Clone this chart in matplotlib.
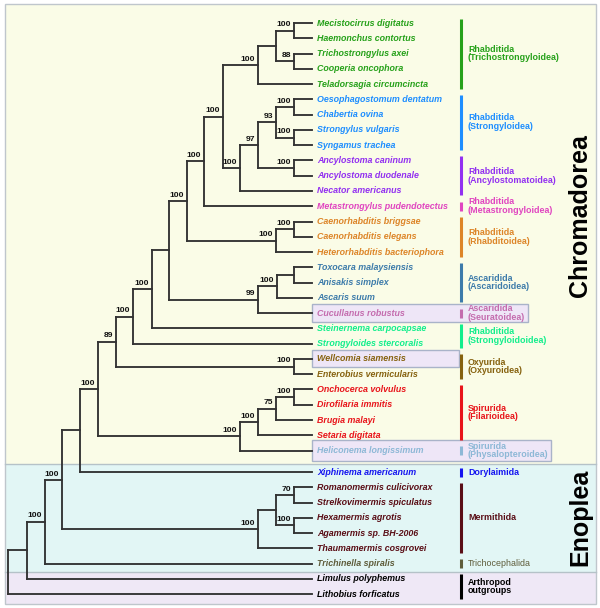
import matplotlib
matplotlib.use("Agg")
import matplotlib.pyplot as plt
from matplotlib.patches import Rectangle

plt.rcParams['font.family'] = ['Liberation Sans', 'DejaVu Sans']

# ---------------- DATA ----------------
taxa = [
    "Mecistocirrus digitatus", "Haemonchus contortus", "Trichostrongylus axei",
    "Cooperia oncophora", "Teladorsagia circumcincta", "Oesophagostomum dentatum",
    "Chabertia ovina", "Strongylus vulgaris", "Syngamus trachea",
    "Ancylostoma caninum", "Ancylostoma duodenale", "Necator americanus",
    "Metastrongylus pudendotectus", "Caenorhabditis briggsae", "Caenorhabditis elegans",
    "Heterorhabditis bacteriophora", "Toxocara malaysiensis", "Anisakis simplex",
    "Ascaris suum", "Cucullanus robustus", "Steinernema carpocapsae",
    "Strongyloides stercoralis", "Wellcomia siamensis", "Enterobius vermicularis",
    "Onchocerca volvulus", "Dirofilaria immitis", "Brugia malayi",
    "Setaria digitata", "Heliconema longissimum", "Xiphinema americanum",
    "Romanomermis culicivorax", "Strelkovimermis spiculatus", "Hexamermis agrotis",
    "Agamermis sp. BH-2006", "Thaumamermis cosgrovei", "Trichinella spiralis",
    "Limulus polyphemus", "Lithobius forficatus",
]

group_names = [
    "Rhabditida\n(Trichostrongyloidea)", "Rhabditida\n(Strongyloidea)",
    "Rhabditida\n(Ancylostomatoidea)", "Rhabditida\n(Metastrongyloidea)",
    "Rhabditida\n(Rhabditoidea)", "Ascaridida\n(Ascaridoidea)",
    "Ascaridida\n(Seuratoidea)", "Rhabditida\n(Strongyloidoidea)",
    "Oxyurida\n(Oxyuroidea)", "Spirurida\n(Filarioidea)",
    "Spirurida\n(Physalopteroidea)", "Dorylaimida", "Mermithida",
    "Trichocephalida", "Arthropod\noutgroups",
]
group_sizes = [5, 4, 3, 1, 3, 3, 1, 2, 2, 4, 1, 1, 5, 1, 2]
group_colors = [
    "#26A11A", "#1E8EFF", "#9230F0", "#E045C0", "#DD8528", "#3D7BAA",
    "#C46CAE", "#12EE8C", "#86620F", "#E8141A", "#8DB8D6", "#1414F0",
    "#5A0E16", "#5E5C3A", "#000000",
]
group_bold = [True] * 13 + [False, True]

highlighted = ["Cucullanus robustus", "Wellcomia siamensis", "Heliconema longissimum"]

# internal nodes: id, children, depth (x), bootstrap support
node_ids = ["A", "B", "C", "D", "E", "F", "G", "H", "I", "J", "K", "L", "M", "N",
            "O", "P", "Q", "R", "S", "T", "U", "V", "W", "X", "Y", "Z", "AA", "AB",
            "AC", "AD", "AE", "AF", "AG", "AH", "AI", "AJ", "ROOT"]
node_children = [
    ("Mecistocirrus digitatus", "Haemonchus contortus"),
    ("Trichostrongylus axei", "Cooperia oncophora"),
    ("A", "B"),
    ("C", "Teladorsagia circumcincta"),
    ("Oesophagostomum dentatum", "Chabertia ovina"),
    ("Strongylus vulgaris", "Syngamus trachea"),
    ("E", "F"),
    ("Ancylostoma caninum", "Ancylostoma duodenale"),
    ("G", "H"),
    ("I", "Necator americanus"),
    ("D", "J"),
    ("K", "Metastrongylus pudendotectus"),
    ("Caenorhabditis briggsae", "Caenorhabditis elegans"),
    ("M", "Heterorhabditis bacteriophora"),
    ("L", "N"),
    ("Toxocara malaysiensis", "Anisakis simplex"),
    ("P", "Ascaris suum"),
    ("Q", "Cucullanus robustus"),
    ("O", "R"),
    ("S", "Steinernema carpocapsae"),
    ("T", "Strongyloides stercoralis"),
    ("Wellcomia siamensis", "Enterobius vermicularis"),
    ("U", "V"),
    ("Onchocerca volvulus", "Dirofilaria immitis"),
    ("X", "Brugia malayi"),
    ("Y", "Setaria digitata"),
    ("Z", "Heliconema longissimum"),
    ("W", "AA"),
    ("AB", "Xiphinema americanum"),
    ("Romanomermis culicivorax", "Strelkovimermis spiculatus"),
    ("Hexamermis agrotis", "Agamermis sp. BH-2006"),
    ("AD", "AE"),
    ("AF", "Thaumamermis cosgrovei"),
    ("AC", "AG"),
    ("AH", "Trichinella spiralis"),
    ("AI", "Limulus polyphemus"),
    ("AJ", "Lithobius forficatus"),
]
node_depth = [294, 294, 276, 258, 294, 294, 276, 294, 258, 240, 223, 204, 294, 276,
              187, 294, 277, 258, 169, 152, 133, 294, 116, 294, 276, 258, 240, 98,
              80, 294, 294, 276, 258, 62, 45, 27, 8]
node_support = [100, 88, None, 100, 100, 100, 93, 100, 97, 100, 100, 100, 100, 100,
                100, None, 100, 99, None, 100, 100, 100, 89, 100, 75, 100, 100, 100,
                None, 70, 100, None, 100, 100, 100, None, None]

clade_names = ["Chromadorea", "Enoplea"]

# ---------------- LAYOUT ----------------
W, H = 600, 608
fig = plt.figure(figsize=(W / 100, H / 100), dpi=100)
ax = fig.add_axes([0, 0, 1, 1])
ax.set_xlim(0, W)
ax.set_ylim(H, 0)
ax.axis("off")

tip_x = 312
text_x = 317
y0, step, gap = 23.0, 15.27, 6.2
gap_after = "Heliconema longissimum"

tip_y = {}
y = y0
for t in taxa:
    tip_y[t] = y
    y += step
    if t == gap_after:
        y += gap

# panels
frame_l, frame_r, frame_t, frame_b = 5, 596, 4, 604
split1, split2 = 463.5, 572
ax.add_patch(Rectangle((frame_l, frame_t), frame_r - frame_l, split1 - frame_t,
                       facecolor="#FAFCE7", edgecolor="none", zorder=0))
ax.add_patch(Rectangle((frame_l, split1), frame_r - frame_l, split2 - split1,
                       facecolor="#E2F6F5", edgecolor="none", zorder=0))
ax.add_patch(Rectangle((frame_l, split2), frame_r - frame_l, frame_b - split2,
                       facecolor="#EFE8F6", edgecolor="none", zorder=0))
ax.add_patch(Rectangle((frame_l, frame_t), frame_r - frame_l, frame_b - frame_t,
                       facecolor="none", edgecolor="#BFC6CC", lw=1.0, zorder=1))
for s in (split1, split2):
    ax.plot([frame_l, frame_r], [s, s], color="#B5C2C8", lw=1.0, zorder=1)

# highlight boxes
box_right = {"Cucullanus robustus": 528, "Wellcomia siamensis": 459,
             "Heliconema longissimum": 551}
box_half = {"Cucullanus robustus": 9, "Wellcomia siamensis": 8.5,
            "Heliconema longissimum": 10.5}
for t in highlighted:
    yy = tip_y[t]
    ax.add_patch(Rectangle((tip_x, yy - box_half[t]), box_right[t] - tip_x,
                           2 * box_half[t], facecolor="#EEE6F7",
                           edgecolor="#A9B3C9", lw=1.0, zorder=1))

# tree
pos = {t: (tip_x, tip_y[t]) for t in taxa}
line_kw = dict(color="#333333", lw=1.35, solid_capstyle="projecting", zorder=3)
for nid, ch, d, sup in zip(node_ids, node_children, node_depth, node_support):
    ys = [pos[c][1] for c in ch]
    ny = sum(ys) / len(ys)
    pos[nid] = (d, ny)
    ax.plot([d, d], [min(ys), max(ys)], **line_kw)
    for c in ch:
        cx, cy = pos[c]
        ax.plot([d, cx], [cy, cy], **line_kw)
    if sup is not None:
        ax.text(d - 3, ny - 4.3, str(sup), ha="right", va="baseline",
                fontsize=6.1, fontweight="bold", color="#111111", zorder=4)

# tip labels + groups
idx = 0
for g, n in enumerate(group_sizes):
    members = taxa[idx:idx + n]
    idx += n
    col = group_colors[g]
    for t in members:
        ax.text(text_x, tip_y[t], t, ha="left", va="center", fontsize=6.4,
                fontweight="bold", fontstyle="italic", color=col, zorder=4)
    ya = tip_y[members[0]] - 4.5
    yb = tip_y[members[-1]] + 4.5
    ax.plot([461, 461], [ya, yb], color=col, lw=2.2, solid_capstyle="butt", zorder=3)
    ax.text(468, (ya + yb) / 2, group_names[g], ha="left", va="center",
            fontsize=6.4, fontweight="bold" if group_bold[g] else "normal",
            color=col, linespacing=0.95, zorder=4)

# big clade labels
ax.text(580, 216, clade_names[0], rotation=90, ha="center", va="center",
        fontsize=18, fontweight="bold", color="black", zorder=4)
ax.text(580, 517, clade_names[1], rotation=90, ha="center", va="center",
        fontsize=18, fontweight="bold", color="black", zorder=4)

fig.savefig("out.png", dpi=100)
